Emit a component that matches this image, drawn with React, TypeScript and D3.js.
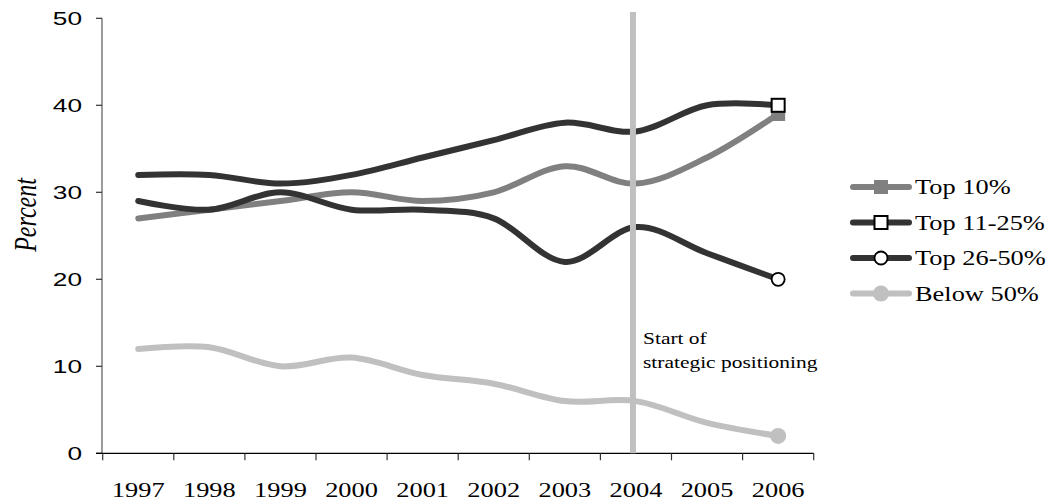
import React from 'react';
import * as d3 from 'd3';

const years = ['1997', '1998', '1999', '2000', '2001', '2002', '2003', '2004', '2005', '2006'];
const top10 = [27, 28, 29, 30, 29, 30, 33, 31, 34, 39];
const top11to25 = [32, 32, 31, 32, 34, 36, 38, 37, 40, 40];
const top26to50 = [29, 28, 30, 28, 28, 27, 22, 26, 23, 20];
const below50 = [12, 12.2, 10, 11, 9, 8, 6, 6, 3.5, 2];
const yTicks = [0, 10, 20, 30, 40, 50];
const seriesNames = ['Top 10%', 'Top 11-25%', 'Top 26-50%', 'Below 50%'];
const markerYear = '2004';
const annotationLines = ['Start of', 'strategic positioning'];

const W = 1057;
const H = 503;
const SX = 1.3; // horizontal stretch of the source picture's text
const SERIF = '"Liberation Serif", "Times New Roman", serif';
const SANS = '"Liberation Sans", Arial, sans-serif';

type Series = { name: string; values: number[]; color: string; marker: 'sqFill' | 'sqOpen' | 'circOpen' | 'circFill' };

export default function App() {
  const x = d3.scaleBand<string>().domain(years).range([102.7, 813.7]).padding(0);
  const y = d3.scaleLinear().domain([0, 50]).range([453.3, 18.3]);
  const cx = (yr: string) => (x(yr) as number) + x.bandwidth() / 2;

  const series: Series[] = [
    { name: seriesNames[0], values: top10, color: '#808080', marker: 'sqFill' },
    { name: seriesNames[1], values: top11to25, color: '#333333', marker: 'sqOpen' },
    { name: seriesNames[2], values: top26to50, color: '#333333', marker: 'circOpen' },
    { name: seriesNames[3], values: below50, color: '#c0c0c0', marker: 'circFill' },
  ];

  const line = d3
    .line<number>()
    .x((_, i) => cx(years[i]))
    .y((d) => y(d))
    .curve(d3.curveCardinal.tension(0));

  const drawMarker = (s: Series, px: number, py: number, key: string) => {
    switch (s.marker) {
      case 'sqFill':
        return <rect key={key} x={px - 7} y={py - 7} width={14} height={14} fill={s.color} />;
      case 'sqOpen':
        return <rect key={key} x={px - 6.5} y={py - 6.5} width={13} height={13} fill="#fff" stroke="#000" strokeWidth={2} />;
      case 'circOpen':
        return <circle key={key} cx={px} cy={py} r={6.5} fill="#fff" stroke="#000" strokeWidth={1.8} />;
      default:
        return <circle key={key} cx={px} cy={py} r={8} fill={s.color} />;
    }
  };

  const bounds = x.domain().map((d) => x(d) as number).concat([x.range()[1]]);
  const lastYear = years[years.length - 1];
  const vx = cx(markerYear) - 3;

  return (
    <svg width={W} height={H} style={{ position: 'absolute', left: 0, top: 0, background: '#fff' }}>
      <rect x={0} y={0} width={W} height={H} fill="#fff" />
      {/* Y axis */}
      <line x1={102} x2={102} y1={y(50)} y2={y(0)} stroke="#666" strokeWidth={1.3} />
      {yTicks.map((t) => (
        <g key={'yt' + t}>
          <line x1={96} x2={102} y1={y(t)} y2={y(t)} stroke="#333" strokeWidth={1.2} />
          <text
            transform={`translate(82,${y(t) + 6.8}) scale(1.42,1)`}
            textAnchor="end"
            fontFamily={SANS}
            fontSize={18.5}
            fill="#000"
          >
            {t}
          </text>
        </g>
      ))}
      <text
        transform={`translate(36,215) rotate(-90) scale(1,${SX})`}
        textAnchor="middle"
        fontFamily={SERIF}
        fontStyle="italic"
        fontSize={24}
      >
        Percent
      </text>
      {/* X axis */}
      <line x1={96} x2={x.range()[1]} y1={y(0)} y2={y(0)} stroke="#000" strokeWidth={1.3} />
      {bounds.map((b, i) => (
        <line key={'xt' + i} x1={b} x2={b} y1={y(0)} y2={y(0) + 7} stroke="#333" strokeWidth={1.2} />
      ))}
      {years.map((yr) => (
        <text
          key={'xl' + yr}
          transform={`translate(${cx(yr)},497) scale(${SX},1)`}
          textAnchor="middle"
          fontFamily={SERIF}
          fontSize={20.3}
        >
          {yr}
        </text>
      ))}
      {/* Lines */}
      {series.map((s) => (
        <path key={'p' + s.name} d={line(s.values) || ''} fill="none" stroke={s.color} strokeWidth={6} strokeLinecap="round" />
      ))}
      {/* Vertical marker line */}
      <line x1={vx} x2={vx} y1={12} y2={y(0)} stroke="#c0c0c0" strokeWidth={6} />
      {/* End markers */}
      {series.map((s) => drawMarker(s, cx(lastYear), y(s.values[s.values.length - 1]), 'm' + s.name))}
      {/* Annotation */}
      {annotationLines.map((t, i) => (
        <text
          key={'an' + i}
          transform={`translate(643,${344 + i * 24}) scale(${SX},1)`}
          fontFamily={SERIF}
          fontSize={16.5}
        >
          {t}
        </text>
      ))}
      {/* Legend */}
      {series.map((s, i) => {
        const ly = 187 + i * 35.5;
        return (
          <g key={'lg' + s.name}>
            <line x1={853} x2={909} y1={ly} y2={ly} stroke={s.color} strokeWidth={6} strokeLinecap="round" />
            {drawMarker(s, 881, ly, 'lm' + s.name)}
            <text
              transform={`translate(915,${ly + 7}) scale(1.32,1)`}
              fontFamily={SERIF}
              fontSize={20}
            >
              {s.name}
            </text>
          </g>
        );
      })}
    </svg>
  );
}
